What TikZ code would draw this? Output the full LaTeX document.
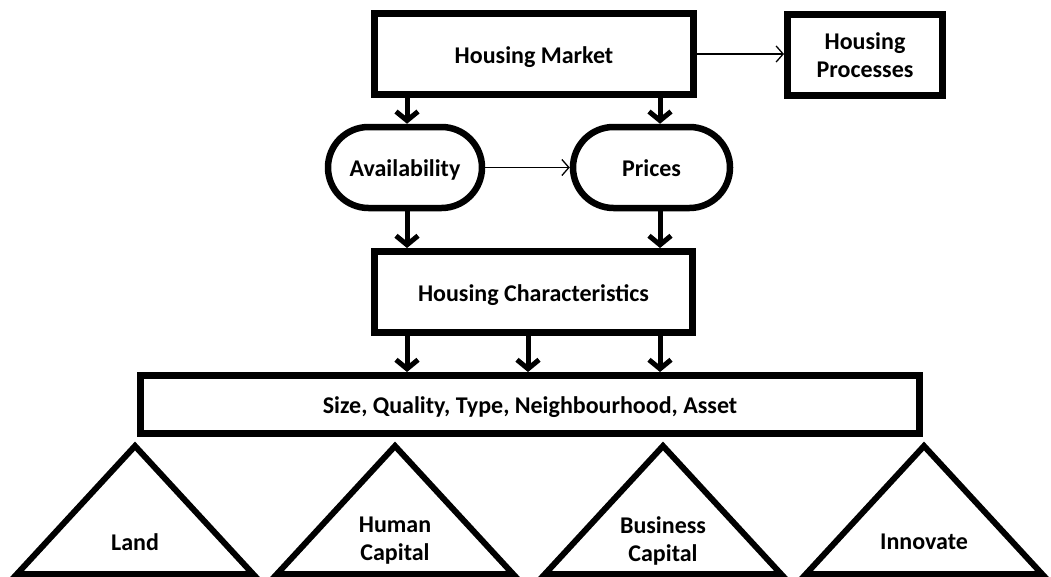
\documentclass[tikz,border=0pt]{standalone}
\usepackage{fontspec}
\setmainfont{Carlito}
\usetikzlibrary{arrows.meta,shapes.misc}
\tikzset{
  lbl/.style={font=\bfseries\fontsize{24}{28}\selectfont, align=center, inner sep=0pt},
  one/.style={text height=18pt, text depth=0pt},
  sqbox/.style={lbl, draw, line width=7pt, minimum height=81pt},
  pill/.style={lbl, one, draw, rounded rectangle, line width=6.5pt, minimum height=81pt},
  fat/.style={line width=5pt, -{Straight Barb[length=9pt,width=22pt]}},
  thin/.style={line width=1.3pt, -{Straight Barb[length=7pt,width=16pt]}},
  tri/.style={draw, line width=6pt, line join=miter}
}
\begin{document}
\begin{tikzpicture}[x=1pt,y=-1pt]
\useasboundingbox (0,0) rectangle (1051,576);
\node[sqbox, one, minimum width=319pt] (HM) at (534,54) {Housing Market};
\node[sqbox, minimum width=155pt] (HP) at (865,55) {Housing\\Processes};
\node[pill, minimum width=154pt] (AV) at (405,167.5) {Availability};
\node[pill, minimum width=157pt] (PR) at (651.5,167.5) {Prices};
\node[sqbox, one, minimum width=318pt] (HC) at (533.5,292) {Housing Characteristics};
\node[sqbox, one, minimum width=779pt, minimum height=58pt] (SZ) at (530,404.5) {Size, Quality, Type, Neighbourhood, Asset};
\coordinate (xa) at (407,0);
\coordinate (xb) at (528,0);
\coordinate (xc) at (660,0);
\draw[thin] (HM.east) -- (HP.west |- HM.east);
\draw[thin] (AV.east) -- (PR.west);
\draw[fat] (HM.south -| xa) -- (AV.north -| xa);
\draw[fat] (HM.south -| xc) -- (PR.north -| xc);
\draw[fat] (AV.south -| xa) -- (HC.north -| xa);
\draw[fat] (PR.south -| xc) -- (HC.north -| xc);
\draw[fat] (HC.south -| xa) -- (SZ.north -| xa);
\draw[fat] (HC.south -| xb) -- (SZ.north -| xb);
\draw[fat] (HC.south -| xc) -- (SZ.north -| xc);
\foreach \cx in {135,395,663,924}{
  \draw[tri] (\cx,446) -- (\cx+118,574) -- (\cx-118,574) -- cycle;
}
\node[lbl] (L1) at (135,542) {Land};
\node[lbl] (L2) at (395,541) {Human\\Capital};
\node[lbl] (L3) at (663,541) {Business\\Capital};
\node[lbl] (L4) at (924,542) {Innovate};
\end{tikzpicture}
\end{document}
